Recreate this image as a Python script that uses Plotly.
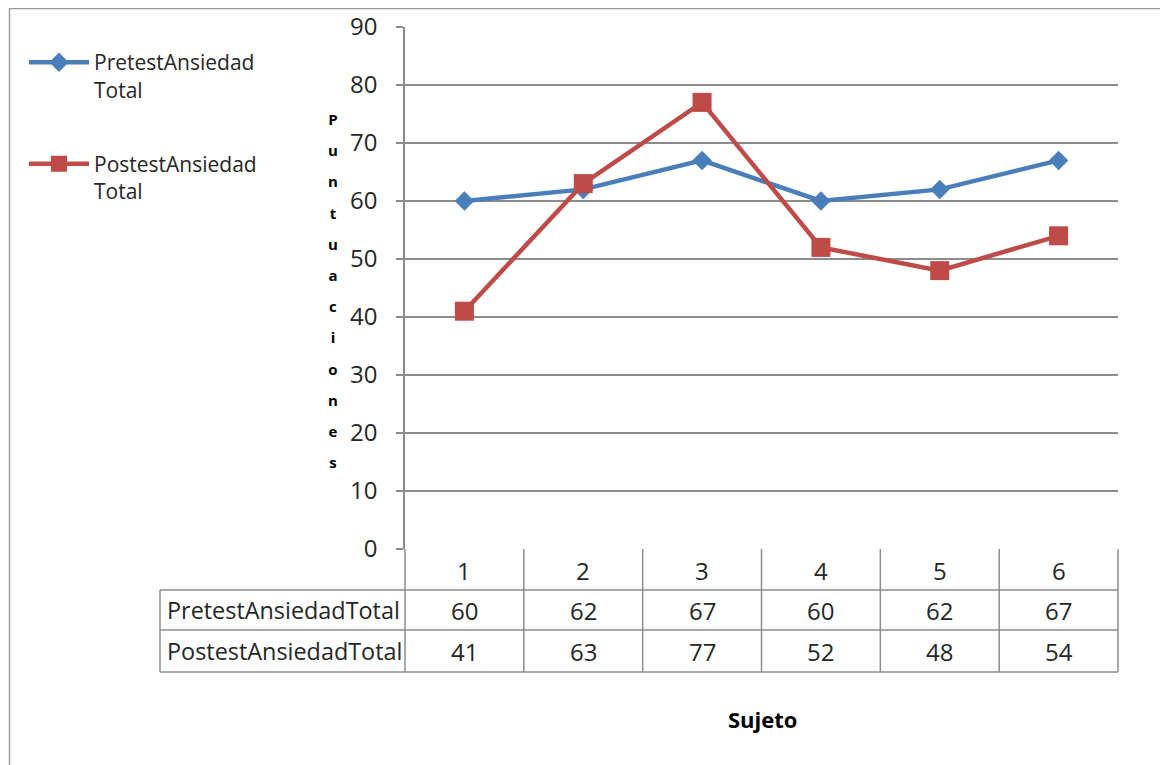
import plotly.graph_objects as go

categories = ["1", "2", "3", "4", "5", "6"]
series_names = ["PretestAnsiedadTotal", "PostestAnsiedadTotal"]
pretest = [60, 62, 67, 60, 62, 67]
postest = [41, 63, 77, 52, 48, 54]
y_ticks = [0, 10, 20, 30, 40, 50, 60, 70, 80, 90]
y_title = "Puntuaciones"
x_title = "Sujeto"

FONT = "Open Sans, Calibri, Arial, sans-serif"
TXT = "#262626"
GRID = "#8c8c8c"
LINE = "#8c8c8c"

OFF = 8  # default page body margin
W, H = 1168 - OFF, 765 - OFF
# plot area in page coordinates: x 405..1118, y 27..549
L = 405 - OFF
T = 27 - OFF
R = W - (1118 - OFF)
B = H - (549 - OFF)
PW = W - L - R
PH = H - T - B

def px(X):
    return (X - OFF - L) / PW

def py(Y):
    return (H - B - (Y - OFF)) / PH

xs = list(range(1, len(categories) + 1))
values = [pretest, postest]
colors = ["#4A7EBB", "#BE4B48"]
symbols = ["diamond", "square"]
msizes = [15, 19]

fig = go.Figure()
for i, (name, vals) in enumerate(zip(series_names, values)):
    fig.add_trace(go.Scatter(
        x=xs, y=vals, mode="lines+markers",
        name=name.replace("Total", "<br>Total"),
        legendgroup=name,
        line=dict(color=colors[i], width=4.5),
        marker=dict(symbol=symbols[i], size=msizes[i], color=colors[i]),
    ))

shapes = []
n = len(categories)
for k in range(n + 1):
    xp = k / n
    shapes.append(dict(type="line", xref="paper", yref="paper",
                       x0=xp, x1=xp, y0=py(549), y1=py(672),
                       line=dict(color=LINE, width=1.5)))
shapes.append(dict(type="line", xref="paper", yref="paper",
                   x0=px(160), x1=px(160), y0=py(590), y1=py(672),
                   line=dict(color=LINE, width=1.5)))
for Y in [590, 630, 672]:
    shapes.append(dict(type="line", xref="paper", yref="paper",
                       x0=px(160), x1=1, y0=py(Y), y1=py(Y),
                       line=dict(color=LINE, width=1.5)))
# outer chart border (top and left)
shapes.append(dict(type="line", xref="paper", yref="paper",
                   x0=px(9), x1=px(1162), y0=py(8.5), y1=py(8.5),
                   line=dict(color="#9a9a9a", width=1.5)))
shapes.append(dict(type="line", xref="paper", yref="paper",
                   x0=px(9.5), x1=px(9.5), y0=py(8), y1=py(766),
                   line=dict(color="#9a9a9a", width=1.5)))

annotations = []
for k, c in enumerate(categories):
    annotations.append(dict(x=xs[k], xref="x", y=py(570), yref="paper",
                            xanchor="center", yanchor="middle",
                            text=c, showarrow=False,
                            font=dict(family=FONT, size=24, color=TXT)))
    for r, vals in enumerate(values):
        yc = [610, 651][r]
        annotations.append(dict(x=xs[k], xref="x", y=py(yc), yref="paper",
                                xanchor="center", yanchor="middle",
                                text=str(vals[k]), showarrow=False,
                                font=dict(family=FONT, size=24, color=TXT)))
for r, name in enumerate(series_names):
    yc = [610, 651][r]
    annotations.append(dict(x=px(165), xref="paper", y=py(yc), yref="paper",
                            xanchor="left", yanchor="middle",
                            text=name, showarrow=False,
                            font=dict(family=FONT, size=23.4, color=TXT)))

stacked = "<br>".join("<span style='font-size:15px'><b>%s</b></span>" % ch for ch in y_title)
annotations.append(dict(x=px(333), xref="paper", y=py(290), yref="paper",
                        xanchor="center", yanchor="middle",
                        text=stacked, showarrow=False, align="center",
                        font=dict(family=FONT, size=24, color="#000000")))
annotations.append(dict(x=px(762), xref="paper", y=py(719), yref="paper",
                        xanchor="center", yanchor="middle",
                        text="<b>%s</b>" % x_title, showarrow=False,
                        font=dict(family=FONT, size=22, color="#000000")))

fig.update_layout(
    width=W, height=H,
    margin=dict(l=L, r=R, t=T, b=B, autoexpand=False),
    paper_bgcolor="white", plot_bgcolor="white",
    font=dict(family=FONT, size=20, color=TXT),
    showlegend=True,
    legend=dict(x=px(24), y=py(42), xanchor="left", yanchor="top",
                font=dict(family=FONT, size=21, color=TXT),
                valign="top", tracegroupgap=44, traceorder="grouped",
                itemwidth=60, bgcolor="rgba(0,0,0,0)"),
    xaxis=dict(range=[0.5, n + 0.5], showticklabels=False, showgrid=False,
               zeroline=False, showline=False, ticks="", automargin=False),
    yaxis=dict(range=[0, 90], tickvals=y_ticks, showgrid=True,
               gridcolor=GRID, gridwidth=1.5, zeroline=False,
               showline=True, linecolor=LINE, linewidth=1.5,
               ticks="outside", ticklen=7, tickcolor=LINE, tickwidth=1.5,
               ticklabelstandoff=14, automargin=False,
               tickfont=dict(family=FONT, size=24, color=TXT)),
    shapes=shapes,
    annotations=annotations,
)

fig.write_html("out.html")
